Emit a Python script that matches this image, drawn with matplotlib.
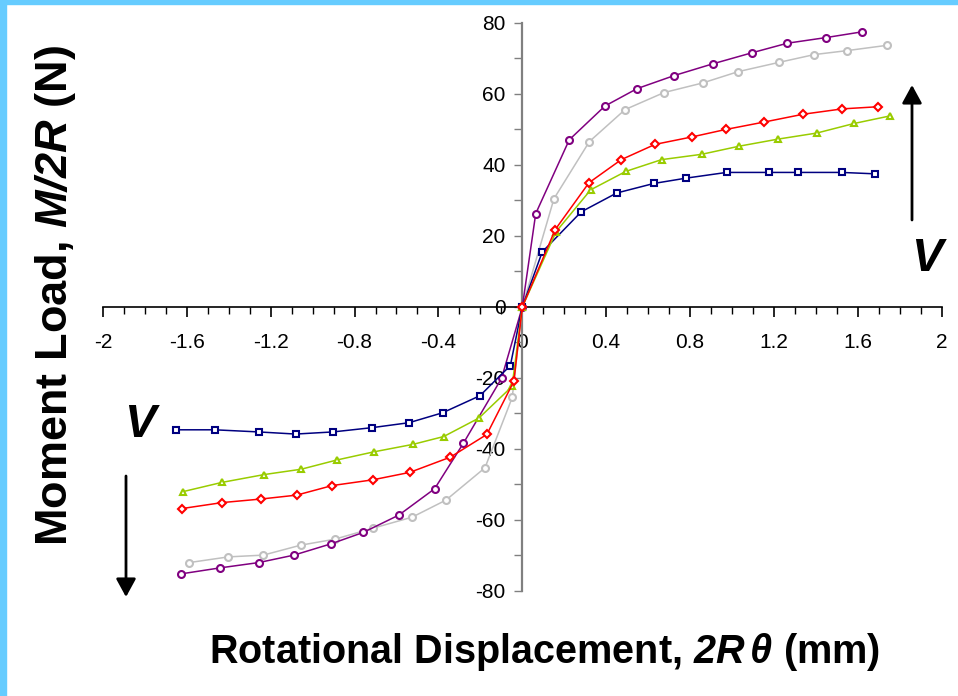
import matplotlib.pyplot as plt
from matplotlib.patches import Rectangle
from matplotlib.ticker import MultipleLocator
import numpy as np

plt.switch_backend('Agg')

plt.rcParams['font.family'] = ['Liberation Sans', 'DejaVu Sans']
plt.rcParams['axes.unicode_minus'] = False
plt.rcParams['mathtext.fontset'] = 'custom'
plt.rcParams['mathtext.rm'] = 'Liberation Sans:bold'
plt.rcParams['mathtext.it'] = 'Liberation Sans:italic:bold'
plt.rcParams['mathtext.bf'] = 'Liberation Sans:bold'
plt.rcParams['mathtext.sf'] = 'Liberation Sans:italic:bold'

# Data: rotational displacement (mm) vs moment load (N)
navy_x = [-1.652, -1.467, -1.257, -1.081, -0.903, -0.717, -0.540, -0.380, -0.202, -0.057, 0.0,
          0.095, 0.281, 0.450, 0.628, 0.782, 0.974, 1.176, 1.313, 1.523, 1.683]
navy_y = [-34.6, -34.6, -35.2, -35.8, -35.2, -34.0, -32.6, -29.8, -25.0, -16.5, 0.0,
          15.5, 26.8, 32.1, 34.8, 36.3, 37.9, 37.9, 37.9, 37.9, 37.5]

green_x = [-1.617, -1.431, -1.230, -1.054, -0.884, -0.707, -0.521, -0.375, -0.207, -0.049, 0.0,
           0.161, 0.326, 0.494, 0.664, 0.855, 1.035, 1.221, 1.405, 1.583, 1.752]
green_y = [-52.0, -49.4, -47.2, -45.7, -43.1, -40.8, -38.7, -36.5, -31.3, -22.4, 0.0,
           21.2, 33.0, 38.2, 41.5, 43.0, 45.3, 47.3, 49.0, 51.7, 53.8]

red_x = [-1.625, -1.431, -1.246, -1.076, -0.906, -0.714, -0.537, -0.343, -0.169, -0.040, 0.0,
         0.157, 0.318, 0.472, 0.633, 0.809, 0.970, 1.154, 1.340, 1.526, 1.695]
red_y = [-56.8, -55.1, -54.1, -53.0, -50.3, -48.7, -46.6, -42.3, -35.9, -20.9, 0.0,
         21.8, 35.0, 41.5, 45.8, 47.9, 50.0, 52.1, 54.3, 55.8, 56.4]

gray_x = [-1.588, -1.402, -1.235, -1.057, -0.893, -0.711, -0.525, -0.364, -0.178, -0.048, 0.0,
          0.151, 0.320, 0.490, 0.676, 0.860, 1.030, 1.224, 1.393, 1.547, 1.739]
gray_y = [-72.0, -70.4, -69.9, -67.1, -65.4, -62.3, -59.2, -54.4, -45.3, -25.5, 0.0,
          30.5, 46.6, 55.6, 60.4, 63.1, 66.3, 68.9, 71.1, 72.2, 73.7]

purple_x = [-1.629, -1.442, -1.257, -1.089, -0.911, -0.758, -0.588, -0.418, -0.281, -0.099, 0.0,
            0.064, 0.224, 0.394, 0.547, 0.725, 0.909, 1.095, 1.264, 1.450, 1.620]
purple_y = [-75.2, -73.5, -72.0, -69.9, -66.7, -63.5, -58.6, -51.2, -38.4, -20.1, 0.0,
            26.3, 47.1, 56.6, 61.5, 65.2, 68.5, 71.6, 74.3, 75.9, 77.5]

x_ticks = [-2, -1.6, -1.2, -0.8, -0.4, 0, 0.4, 0.8, 1.2, 1.6, 2]
x_labels = ['-2', '-1.6', '-1.2', '-0.8', '-0.4', '0', '0.4', '0.8', '1.2', '1.6', '2']
y_ticks = [-80, -60, -40, -20, 0, 20, 40, 60, 80]

series = [
    (gray_x, gray_y, '#C0C0C0', 'o'),
    (purple_x, purple_y, '#800080', 'o'),
    (navy_x, navy_y, '#000080', 's'),
    (green_x, green_y, '#99CC00', '^'),
    (red_x, red_y, '#FF0000', 'D'),
]

fig = plt.figure(figsize=(9.58, 6.96), dpi=100)
ax = fig.add_axes([0.1074, 0.1509, 0.8756, 0.8161])

for xs, ys, col, mk in series:
    ms = 5.0 if mk != 'D' else 4.5
    ax.plot(xs, ys, color=col, lw=1.1, marker=mk, ms=ms, mfc='white',
            mec=col, mew=1.5, zorder=3)

ax.set_xlim(-2, 2)
ax.set_ylim(-80, 80)

# axes crossing at the origin
for side in ['top', 'right']:
    ax.spines[side].set_visible(False)
ax.spines['left'].set_position(('data', 0))
ax.spines['bottom'].set_position(('data', 0))
ax.spines['left'].set_color('#808080')
ax.spines['left'].set_linewidth(1.6)
ax.spines['bottom'].set_color('black')
ax.spines['bottom'].set_linewidth(1.2)

ax.set_xticks(x_ticks)
ax.set_xticklabels(x_labels)
ax.set_yticks(y_ticks)
ax.xaxis.set_minor_locator(MultipleLocator(0.1))
ax.yaxis.set_minor_locator(MultipleLocator(10))
ax.tick_params(axis='x', which='major', direction='out', length=7, width=1.2,
               pad=12, labelsize=15)
ax.tick_params(axis='x', which='minor', direction='out', length=5, width=1.0)
ax.tick_params(axis='y', which='major', direction='out', length=6, width=1.0,
               color='#808080', pad=6, labelsize=15)
ax.tick_params(axis='y', which='minor', direction='out', length=6, width=1.0,
               color='#808080')
ax.patch.set_alpha(0)

# axis titles
fig.text(0.568, 0.063, r'Rotational Displacement, $\mathsf{2R}\,\theta$ (mm)',
         ha='center', va='center', fontsize=28.5, fontweight='bold')
fig.text(0.058, 0.576, r'Moment Load, $\mathsf{M/2R}$ (N)', rotation=90,
         ha='center', va='center', fontsize=32.5, fontweight='bold')

# load direction markers
fig.text(926.7 / 958, 1 - 259 / 696, 'V', ha='center', va='center',
         fontsize=34, fontweight='bold', fontstyle='italic')
fig.text(140 / 958, 1 - 425 / 696, 'V', ha='center', va='center',
         fontsize=34, fontweight='bold', fontstyle='italic')
arrow = dict(arrowstyle='-|>,head_length=0.55,head_width=0.3', lw=2,
             color='black', mutation_scale=20, shrinkA=0, shrinkB=0)
ax.annotate('', xy=(912 / 958, 1 - 85 / 696), xytext=(912 / 958, 1 - 220 / 696),
            xycoords='figure fraction', arrowprops=arrow)
ax.annotate('', xy=(126 / 958, 1 - 597 / 696), xytext=(126 / 958, 1 - 476 / 696),
            xycoords='figure fraction', arrowprops=arrow)

# light blue frame on the left and top edges
fig.patches.append(Rectangle((0, 0), 6 / 958, 1, transform=fig.transFigure,
                             color='#66CCFF', zorder=10))
fig.patches.append(Rectangle((0, 1 - 4 / 696), 1, 4 / 696, transform=fig.transFigure,
                             color='#66CCFF', zorder=10))

fig.savefig('out.png', dpi=100)
